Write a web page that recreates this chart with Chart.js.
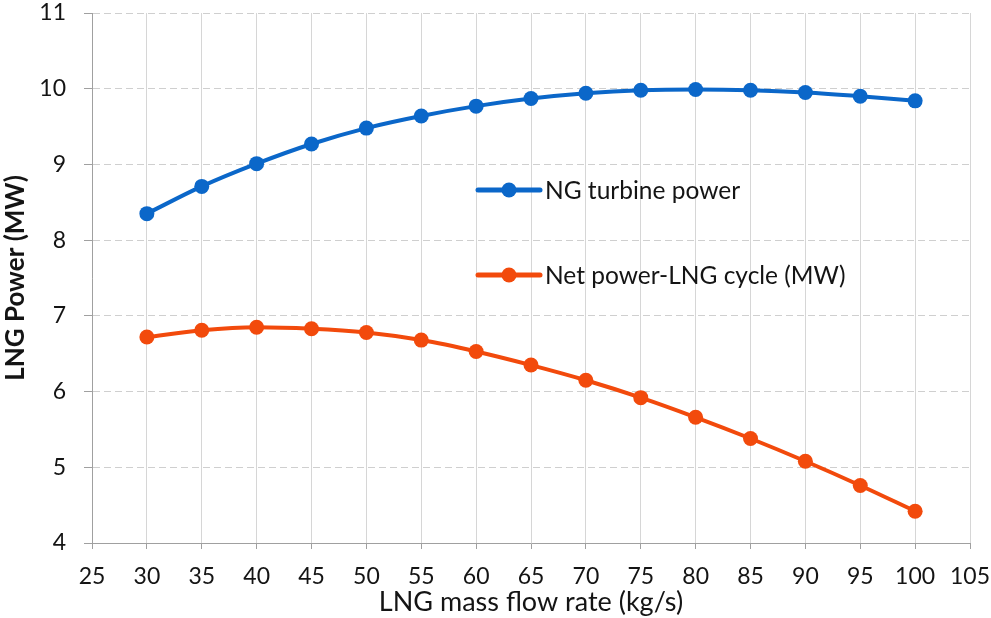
<!DOCTYPE html>
<html>
<head>
<meta charset="utf-8">
<script src="https://cdn.jsdelivr.net/npm/chart.js@4.4.1/dist/chart.umd.min.js"></script>
<style>
  html, body { margin: 0; padding: 0; background: #ffffff; }
  #wrap { width: 991px; height: 618px; position: relative; }
</style>
</head>
<body>
<div id="wrap"><canvas id="c" width="991" height="618"></canvas></div>
<script>
// LNG mass flow rate (kg/s)
const massFlow = [30, 35, 40, 45, 50, 55, 60, 65, 70, 75, 80, 85, 90, 95, 100];
// NG turbine power (MW)
const ngTurbinePower = [8.35, 8.71, 9.01, 9.27, 9.48, 9.64, 9.77, 9.87, 9.94, 9.98, 9.99, 9.98, 9.95, 9.90, 9.84];
// Net power of the LNG cycle (MW)
const netPowerLng = [6.72, 6.81, 6.85, 6.83, 6.78, 6.68, 6.53, 6.35, 6.15, 5.92, 5.66, 5.38, 5.08, 4.76, 4.42];

const seriesNames = ['NG turbine power', 'Net power-LNG cycle (MW)'];
const xTitle = 'LNG mass flow rate (kg/s)';
const yTitle = 'LNG Power (MW)';

const BLUE = '#0b67c9';
const ORANGE = '#f24a0c';
const FONT = 'Lato, "Open Sans", sans-serif';
const TEXT = '#141414';

const toPoints = (xs, ys) => xs.map((x, i) => ({ x: x, y: ys[i] }));

// Legend drawn inside the plot area, line-with-marker style
const insideLegend = {
  id: 'insideLegend',
  afterDatasetsDraw(chart) {
    const ctx = chart.ctx;
    const items = chart.data.datasets.map((d, i) => ({
      color: d.borderColor, label: d.label, y: [190, 275][i]
    }));
    ctx.save();
    items.forEach(it => {
      ctx.strokeStyle = it.color;
      ctx.lineWidth = 5;
      ctx.lineCap = 'round';
      ctx.beginPath();
      ctx.moveTo(478, it.y);
      ctx.lineTo(540, it.y);
      ctx.stroke();
      ctx.fillStyle = it.color;
      ctx.beginPath();
      ctx.arc(509, it.y, 7.5, 0, Math.PI * 2);
      ctx.fill();
      ctx.fillStyle = TEXT;
      ctx.font = '24.5px ' + FONT;
      ctx.textAlign = 'left';
      ctx.textBaseline = 'middle';
      ctx.fillText(it.label, 545, it.y + 1);
    });
    ctx.restore();
  }
};

new Chart(document.getElementById('c'), {
  type: 'line',
  data: {
    datasets: [
      {
        label: seriesNames[0],
        data: toPoints(massFlow, ngTurbinePower),
        borderColor: BLUE,
        backgroundColor: BLUE,
        borderWidth: 4,
        pointRadius: 7.5,
        pointHoverRadius: 7.5,
        pointBorderWidth: 0,
        cubicInterpolationMode: 'monotone'
      },
      {
        label: seriesNames[1],
        data: toPoints(massFlow, netPowerLng),
        borderColor: ORANGE,
        backgroundColor: ORANGE,
        borderWidth: 4,
        pointRadius: 7.5,
        pointHoverRadius: 7.5,
        pointBorderWidth: 0,
        cubicInterpolationMode: 'monotone'
      }
    ]
  },
  options: {
    responsive: false,
    animation: false,
    layout: { padding: 0 },
    plugins: {
      legend: { display: false },
      tooltip: { enabled: false }
    },
    scales: {
      x: {
        type: 'linear',
        min: 25,
        max: 105,
        afterFit(scale) {
          scale.height = 75;
          scale.paddingLeft = 0;
          scale.paddingRight = 21;
        },
        ticks: {
          stepSize: 5,
          color: TEXT,
          font: { family: FONT, size: 23 },
          padding: 14,
          maxRotation: 0
        },
        grid: {
          color: '#d6d6d6',
          lineWidth: 1,
          tickLength: 6,
          tickColor: '#a0a0a0',
          drawOnChartArea: true
        },
        border: { color: '#a0a0a0', width: 1 },
        title: {
          display: true,
          text: xTitle,
          color: TEXT,
          font: { family: FONT, size: 27 },
          padding: { top: 0, bottom: 0 }
        }
      },
      y: {
        min: 4,
        max: 11,
        afterFit(scale) {
          scale.width = 92;
          scale.paddingTop = 13;
          scale.paddingBottom = 0;
        },
        ticks: {
          stepSize: 1,
          color: TEXT,
          font: { family: FONT, size: 23 },
          padding: 18
        },
        grid: {
          color: '#cfcfcf',
          lineWidth: 1,
          tickLength: 8,
          tickColor: '#a0a0a0'
        },
        border: { color: '#a0a0a0', width: 1, dash: [7, 4] },
        title: {
          display: true,
          text: yTitle,
          color: TEXT,
          font: { family: FONT, size: 26, weight: 'bold' },
          padding: { top: 0, bottom: 0 }
        }
      }
    }
  },
  plugins: [insideLegend]
});
</script>
</body>
</html>
